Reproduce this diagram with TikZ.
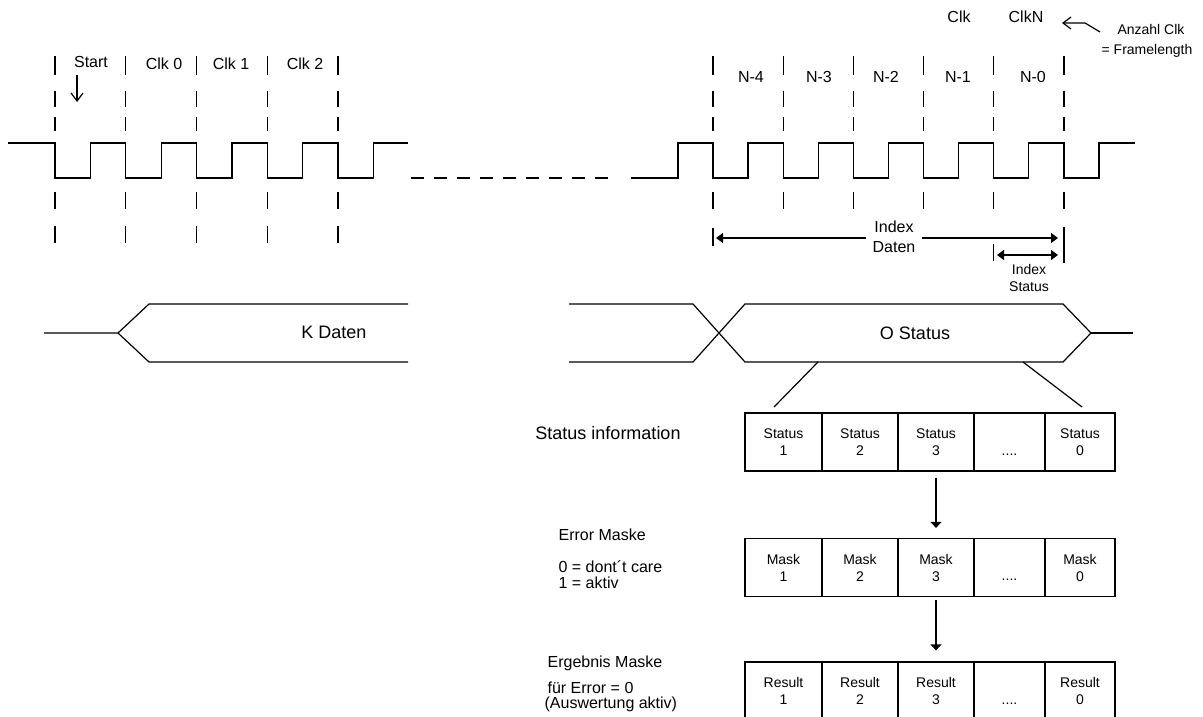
\documentclass[tikz,border=0pt]{standalone}
\usepackage{fontspec}
\setmainfont{Liberation Sans}
\usetikzlibrary{arrows.meta}

\tikzset{every picture/.style={line width=1.2pt}}
\tikzset{
  lbl/.style={font=\fontsize{16}{20}\selectfont, inner sep=0pt, anchor=base},
  biglbl/.style={font=\fontsize{18}{22}\selectfont, inner sep=0pt, anchor=base},
  smalllbl/.style={font=\fontsize{14}{17}\selectfont, inner sep=0pt, anchor=base},
  cell/.style={draw, minimum height=58pt, inner sep=0pt, align=center, font=\fontsize{14}{17}\selectfont},
  filltip/.style={-{Triangle[length=7pt,width=10pt]}},
  opentip/.style={-{Straight Barb[length=8pt,width=12pt]}},
}

\begin{document}
\begin{tikzpicture}[x=1pt,y=1pt,yscale=-1,xscale=1]
\path[use as bounding box] (0,0) rectangle (1203,717);

%Clock left
\draw (8,143) \foreach \x in {55,125.75,196.5,267.25,338} { -- (\x,143) -- (\x,178) -- (\x+35.4,178) -- (\x+35.4,143) } -- (408,143);
%Clock right
\draw (631,178) -- (678,178) -- (678,143) \foreach \x in {713,783.2,853.4,923.6,993.8,1064} { -- (\x,143) -- (\x,178) -- (\x+35,178) -- (\x+35,143) } -- (1135,143);
%Straight Lines: gap
\draw [dash pattern=on 13pt off 10pt] (411,178) -- (613,178);

%Clock ticks
\foreach \x in {55,125.75,196.5,267.25,338,713,783.2,853.4,923.6,993.8,1064}
  \foreach \a/\b in {56/75,91/107,117/131,192/209}
    \draw (\x,\a) -- (\x,\b);
\foreach \x in {55,125.75,196.5,267.25,338}
  \draw (\x,226) -- (\x,243);
\draw (713,228) -- (713,246);
\draw (993.8,244) -- (993.8,261);
\draw (1064,227) -- (1064,263);

% Text Node
\node [lbl] (start) at (91,67) {Start};
\node [lbl] (clk0) at (164,70) {Clk 0};
\node [lbl] (clk1) at (231,70) {Clk 1};
\node [lbl] (clk2) at (305,70) {Clk 2};
% Text Node
\node [lbl] (n4) at (751,82) {N-4};
\node [lbl] (n3) at (819,82) {N-3};
\node [lbl] (n2) at (886,82) {N-2};
\node [lbl] (n1) at (958,82) {N-1};
\node [lbl] (n0) at (1033,82) {N-0};
\node [lbl] (clk) at (959,23) {Clk};
\node [lbl] (clkn) at (1026,23) {ClkN};
\node [smalllbl] (anzahl) at (1151,34.3) {Anzahl Clk};
\node [smalllbl] (frame) at (1147,54.3) {= Framelength};

%Start arrow
\coordinate (sa) at (77,75);
\coordinate (sb) at (77,102);
\draw [opentip] (sa) -- (sb);
%Anzahl arrow
\coordinate (an1) at (1100,32);
\coordinate (an2) at (1085,23);
\coordinate (an3) at (1062,23);
\draw [opentip] (an1) -- (an2) -- (an3);

%Index arrows
\node [font=\fontsize{16}{20}\selectfont, align=center, inner xsep=6pt, inner ysep=0pt] (idxd) at (894,237) {Index\\Daten};
\coordinate (dl) at (716,238);
\coordinate (dr) at (1058,238);
\draw [filltip] (idxd.west |- dl) -- (dl);
\draw [filltip] (idxd.east |- dr) -- (dr);
\coordinate (sl) at (997,255);
\coordinate (sr) at (1058,255);
\draw [{Triangle[length=7pt,width=10pt]}-{Triangle[length=7pt,width=10pt]}] (sl) -- (sr);
\node [font=\fontsize{14}{17}\selectfont, align=center, inner sep=0pt] (idxs) at (1029,277.5) {Index\\Status};

%Bus K Daten
\draw (44,333) -- (118,333) -- (149,304) -- (408,304);
\draw (118,333) -- (149,362) -- (408,362);
%Bus O Status
\draw (569,304) -- (693,304) -- (745,362) -- (1063,362) -- (1091,333) -- (1063,304) -- (745,304) -- (693,362) -- (569,362);
\draw (1091,333) -- (1133,333);
\draw (818,362) -- (774,407);
\draw (1023,362) -- (1082,407);
% Text Node
\node [biglbl] (kdat) at (334,338.5) {K Daten};
\node [biglbl] (ostat) at (915,339) {O Status};

%Status row
\foreach \cx/\cw/\nm in {783.5/77/1,860/76/2,936/76/3,1080/70/0} {
  \node [cell, minimum width=\cw pt] (st\nm) at (\cx,442) {Status\\\nm};
  \node [cell, minimum width=\cw pt] (mk\nm) at (\cx,567.5) {Mask\\\nm};
  \node [cell, minimum width=\cw pt] (rs\nm) at (\cx,691) {Result\\\nm};
}
\node [cell, minimum width=71pt] (stdots) at (1009.5,442) {\phantom{S}\\....};
\node [cell, minimum width=71pt] (mkdots) at (1009.5,567.5) {\phantom{S}\\....};
\node [cell, minimum width=71pt] (rsdots) at (1009.5,691) {\phantom{S}\\....};

\draw [-{Triangle[length=6pt,width=11pt]}, shorten <=6pt, shorten >=10pt] (st3) -- (mk3);
\draw [-{Triangle[length=6pt,width=11pt]}, shorten <=3pt, shorten >=11pt] (mk3) -- (rs3);

% Text Node
\node [biglbl] (stinfo) at (608,439) {Status information};
\node [lbl, anchor=base west] (errm) at (558,540) {Error Maske};
\node [lbl, anchor=base west] (dc) at (558,572) {0 = dont´t care};
\node [lbl, anchor=base west] (akt) at (558,588) {1 = aktiv};
\node [lbl, anchor=base west] (ergm) at (547,667) {Ergebnis Maske};
\node [lbl, anchor=base west] (fuer) at (547,693) {für Error = 0};
\node [lbl, anchor=base west] (ausw) at (544,708) {(Auswertung aktiv)};

\end{tikzpicture}
\end{document}
